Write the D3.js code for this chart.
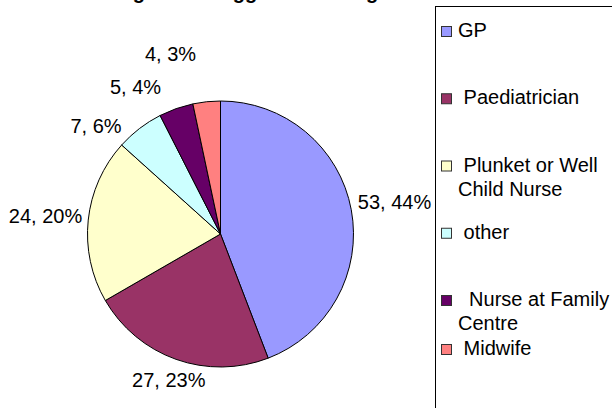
<!DOCTYPE html>
<html>
<head>
<meta charset="utf-8">
<script src="https://cdn.jsdelivr.net/npm/d3@7"></script>
<style>
  html, body { margin: 0; padding: 0; background: #fff; }
  svg { display: block; }
  text { font-family: "Liberation Sans", Arial, sans-serif; white-space: pre; }
</style>
</head>
<body>
<script>
// ---- data ----
const categories = ["GP", "Paediatrician", "Plunket or Well Child Nurse", "other", "Nurse at Family Centre", "Midwife"];
const values = [53, 27, 24, 7, 5, 4];
const colors = ["#9999FF", "#993366", "#FFFFCC", "#CCFFFF", "#660066", "#FF8080"];
const legendLines = [["GP"], [" Paediatrician"], [" Plunket or Well", "Child Nurse"], [" other"], ["  Nurse at Family", "Centre"], [" Midwife"]];
const titleText = "Among those suggested seeing a doctor";

// ---- layout ----
const W = 612, H = 408;
const cx = 220.5, cy = 234, R = 133;
const fontSize = 20;

const svg = d3.select("body").append("svg").attr("width", W).attr("height", H);

// title (mostly cut off at top)
svg.append("text")
  .attr("x", 76).attr("y", -1)
  .attr("font-size", fontSize).attr("font-weight", "bold")
  .text(titleText);

const total = d3.sum(values);
const rows = categories.map((c, i) => ({ cat: c, value: values[i], color: colors[i], i }));

const pie = d3.pie().value(d => d.value).sort(null);
const arcs = pie(rows);
const arc = d3.arc().innerRadius(0).outerRadius(R);

const g = svg.append("g").attr("transform", `translate(${cx},${cy})`);
g.selectAll("path").data(arcs).join("path")
  .attr("d", arc)
  .attr("fill", d => d.data.color)
  .attr("stroke", "#000").attr("stroke-width", 1);

// data labels: outside end, small slices spread apart
const labelAngleShift = [0, 0, 0, -11.5, -10.5, -9.5];
const labelRadius = [177, 155, 176, 165, 170, 187];
g.selectAll("text.lbl").data(arcs).join("text")
  .attr("class", "lbl")
  .attr("font-size", fontSize)
  .attr("text-anchor", "middle")
  .attr("dy", "0.35em")
  .attr("transform", d => {
    const i = d.data.i;
    const mid = (d.startAngle + d.endAngle) / 2 + labelAngleShift[i] * Math.PI / 180;
    const la = d3.arc().innerRadius(labelRadius[i]).outerRadius(labelRadius[i]);
    const p = la.centroid({ startAngle: mid, endAngle: mid });
    return `translate(${p[0]},${p[1]})`;
  })
  .text(d => `${d.data.value}, ${Math.round(d.data.value / total * 100)}%`);

// legend
const lg = svg.append("g");
lg.append("rect")
  .attr("x", 435.5).attr("y", 6.5).attr("width", 220).attr("height", 430)
  .attr("fill", "#fff").attr("stroke", "#000").attr("stroke-width", 1);

const legendY = d3.scaleLinear().domain([0, 4]).range([37, 306]);
const baselines = rows.map((d, i) => i < 5 ? legendY(i) : 355);
const lineH = 24;

const items = lg.selectAll("g.item").data(rows).join("g").attr("class", "item")
  .attr("transform", (d, i) => `translate(0,${baselines[i]})`);
items.append("rect")
  .attr("x", 441.5).attr("y", -10.5).attr("width", 10).attr("height", 10)
  .attr("fill", d => d.color).attr("stroke", "#333").attr("stroke-width", 1);
items.each(function (d, i) {
  const t = d3.select(this).append("text").attr("font-size", fontSize);
  legendLines[i].forEach((line, k) => {
    t.append("tspan").attr("x", 458).attr("y", k * lineH).text(line);
  });
});
</script>
</body>
</html>
